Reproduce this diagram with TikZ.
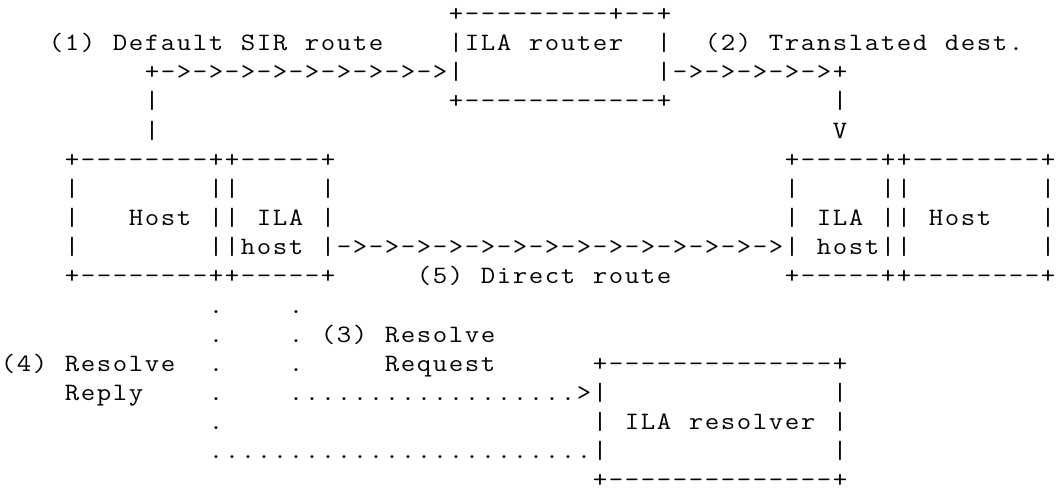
\documentclass[tikz,border=0pt]{standalone}
\usepackage{graphicx}
\makeatletter
\def\ascii@end{\ascii@end}
\newcommand\asciirun[1]{\ascii@loop#1\ascii@end}
\def\ascii@loop#1{\ifx#1\ascii@end\else\hbox to 16pt{\hss\scalebox{1.12}[1]{#1}\hss}\expandafter\ascii@loop\fi}
\makeatother
\tikzset{asc/.style={anchor=base west, inner sep=0pt, outer sep=0pt, text=black,
  font=\ttfamily\fontsize{25}{29}\selectfont}}
\begin{document}
\begin{tikzpicture}[x=1pt,y=1pt]
\useasboundingbox (0,0) rectangle (1056,-489);
% row 1
\node[asc] (r1a) at (448,-21.5) {\asciirun{+---------+--+}};
% row 2
\node[asc] (r2a) at (48,-50.65) {\asciirun{(1)}};
\node[asc] (r2b) at (112,-50.65) {\asciirun{Default}};
\node[asc] (r2c) at (240,-50.65) {\asciirun{SIR}};
\node[asc] (r2d) at (304,-50.65) {\asciirun{route}};
\node[asc] (r2e) at (448,-50.65) {\asciirun{|ILA}};
\node[asc] (r2f) at (528,-50.65) {\asciirun{router}};
\node[asc] (r2g) at (656,-50.65) {\asciirun{|}};
\node[asc] (r2h) at (704,-50.65) {\asciirun{(2)}};
\node[asc] (r2i) at (768,-50.65) {\asciirun{Translated}};
\node[asc] (r2j) at (944,-50.65) {\asciirun{dest.}};
% row 3
\node[asc] (r3a) at (144,-79.8) {\asciirun{+->->->->->->->->->|}};
\node[asc] (r3b) at (656,-79.8) {\asciirun{|->->->->->+}};
% row 4
\node[asc] (r4a) at (144,-108.95) {\asciirun{|}};
\node[asc] (r4b) at (448,-108.95) {\asciirun{+------------+}};
\node[asc] (r4c) at (832,-108.95) {\asciirun{|}};
% row 5
\node[asc] (r5a) at (144,-138.1) {\asciirun{|}};
\node[asc] (r5b) at (832,-138.1) {\asciirun{V}};
% row 6
\node[asc] (r6a) at (64,-167.25) {\asciirun{+--------++-----+}};
\node[asc] (r6b) at (784,-167.25) {\asciirun{+-----++--------+}};
% row 7
\node[asc] (r7a) at (64,-196.4) {\asciirun{|}};
\node[asc] (r7b) at (208,-196.4) {\asciirun{||}};
\node[asc] (r7c) at (320,-196.4) {\asciirun{|}};
\node[asc] (r7d) at (784,-196.4) {\asciirun{|}};
\node[asc] (r7e) at (880,-196.4) {\asciirun{||}};
\node[asc] (r7f) at (1040,-196.4) {\asciirun{|}};
% row 8
\node[asc] (r8a) at (64,-225.55) {\asciirun{|}};
\node[asc] (r8b) at (128,-225.55) {\asciirun{Host}};
\node[asc] (r8c) at (208,-225.55) {\asciirun{||}};
\node[asc] (r8d) at (256,-225.55) {\asciirun{ILA}};
\node[asc] (r8e) at (320,-225.55) {\asciirun{|}};
\node[asc] (r8f) at (784,-225.55) {\asciirun{|}};
\node[asc] (r8g) at (816,-225.55) {\asciirun{ILA}};
\node[asc] (r8h) at (880,-225.55) {\asciirun{||}};
\node[asc] (r8i) at (928,-225.55) {\asciirun{Host}};
\node[asc] (r8j) at (1040,-225.55) {\asciirun{|}};
% row 9
\node[asc] (r9a) at (64,-254.7) {\asciirun{|}};
\node[asc] (r9b) at (208,-254.7) {\asciirun{||host}};
\node[asc] (r9c) at (320,-254.7) {\asciirun{|->->->->->->->->->->->->->->|}};
\node[asc] (r9d) at (816,-254.7) {\asciirun{host||}};
\node[asc] (r9e) at (1040,-254.7) {\asciirun{|}};
% row 10
\node[asc] (r10a) at (64,-283.85) {\asciirun{+--------++-----+}};
\node[asc] (r10b) at (416,-283.85) {\asciirun{(5)}};
\node[asc] (r10c) at (480,-283.85) {\asciirun{Direct}};
\node[asc] (r10d) at (592,-283.85) {\asciirun{route}};
\node[asc] (r10e) at (784,-283.85) {\asciirun{+-----++--------+}};
% row 11
\node[asc] (r11a) at (208,-313.0) {\asciirun{.}};
\node[asc] (r11b) at (288,-313.0) {\asciirun{.}};
% row 12
\node[asc] (r12a) at (208,-342.15) {\asciirun{.}};
\node[asc] (r12b) at (288,-342.15) {\asciirun{.}};
\node[asc] (r12c) at (320,-342.15) {\asciirun{(3)}};
\node[asc] (r12d) at (384,-342.15) {\asciirun{Resolve}};
% row 13
\node[asc] (r13a) at (0,-371.3) {\asciirun{(4)}};
\node[asc] (r13b) at (64,-371.3) {\asciirun{Resolve}};
\node[asc] (r13c) at (208,-371.3) {\asciirun{.}};
\node[asc] (r13d) at (288,-371.3) {\asciirun{.}};
\node[asc] (r13e) at (384,-371.3) {\asciirun{Request}};
\node[asc] (r13f) at (592,-371.3) {\asciirun{+--------------+}};
% row 14
\node[asc] (r14a) at (64,-400.45) {\asciirun{Reply}};
\node[asc] (r14b) at (208,-400.45) {\asciirun{.}};
\node[asc] (r14c) at (288,-400.45) {\asciirun{..................>|}};
\node[asc] (r14d) at (832,-400.45) {\asciirun{|}};
% row 15
\node[asc] (r15a) at (208,-429.6) {\asciirun{.}};
\node[asc] (r15b) at (592,-429.6) {\asciirun{|}};
\node[asc] (r15c) at (624,-429.6) {\asciirun{ILA}};
\node[asc] (r15d) at (688,-429.6) {\asciirun{resolver}};
\node[asc] (r15e) at (832,-429.6) {\asciirun{|}};
% row 16
\node[asc] (r16a) at (208,-458.75) {\asciirun{........................|}};
\node[asc] (r16b) at (832,-458.75) {\asciirun{|}};
% row 17
\node[asc] (r17a) at (592,-487.2) {\raisebox{0pt}[\height][0pt]{\asciirun{+--------------+}}};
\end{tikzpicture}
\end{document}
